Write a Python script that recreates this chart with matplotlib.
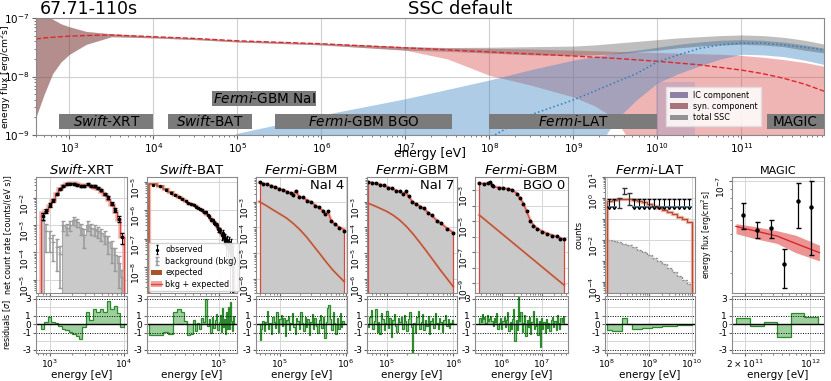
import numpy as np
import matplotlib
matplotlib.use("Agg")
import matplotlib.pyplot as plt
from matplotlib import ticker
from matplotlib.patches import Patch
from matplotlib.lines import Line2D

plt.rcParams["font.family"] = ["DejaVu Sans"]
plt.rcParams["mathtext.fontset"] = "dejavusans"
plt.rcParams["axes.edgecolor"] = "#8a8a8a"
plt.rcParams["axes.linewidth"] = 0.8
plt.rcParams["xtick.color"] = "#666666"
plt.rcParams["ytick.color"] = "#666666"
plt.rcParams["xtick.labelcolor"] = "black"
plt.rcParams["ytick.labelcolor"] = "black"

# ---------- top panel: SED model bands, log10 flux on a log10 energy grid ----------
SED_LOGE = [2.6, 2.7, 2.8, 2.9, 3.0, 3.2, 3.5, 4.0, 4.5, 5.0, 6.0, 7.0, 7.5, 8.0,
            8.5, 9.0, 9.25, 9.5, 9.75, 10.0, 10.25, 10.5, 10.75, 11.0, 11.25, 11.5, 11.75, 12.0]
SYN_MED = [-7.36, -7.34, -7.33, -7.32, -7.31, -7.30, -7.29, -7.32, -7.35, -7.39, -7.44, -7.51, -7.545, -7.58,
           -7.615, -7.65, -7.67, -7.69, -7.715, -7.74, -7.77, -7.80, -7.845, -7.89, -7.95, -8.03, -8.13, -8.26]
SYN_HI = [-6.8, -6.9, -7.02, -7.1, -7.15, -7.23, -7.27, -7.31, -7.34, -7.38, -7.43, -7.49, -7.51, -7.52,
          -7.53, -7.55, -7.56, -7.57, -7.58, -7.59, -7.6, -7.61, -7.62, -7.64, -7.67, -7.71, -7.76, -7.83]
SYN_LO = [-8.7, -8.3, -7.95, -7.75, -7.62, -7.45, -7.32, -7.34, -7.37, -7.41, -7.46, -7.55, -7.7, -7.98,
          -8.15, -8.35, -8.5, -8.72, -9.3, -10, -10, -10, -10, -10, -10, -10, -10, -10]
IC_MED = [-12, -12, -12, -12, -12, -12, -12, -12, -12, -12, -12, -10.2, -9.6, -9.05,
          -8.65, -8.4, -8.25, -8.1, -7.95, -7.75, -7.63, -7.52, -7.46, -7.43, -7.43, -7.46, -7.5, -7.55]
IC_HI = [-11, -11, -11, -11, -11, -11, -11, -11, -9.3, -8.97, -8.66, -8.38, -8.22, -8.06,
         -7.88, -7.72, -7.66, -7.6, -7.55, -7.5, -7.45, -7.41, -7.38, -7.37, -7.38, -7.41, -7.46, -7.52]
IC_LO = [-11, -11, -11, -11, -11, -11, -11, -11, -11, -11, -11, -11, -11, -11,
         -11, -11, -9.3, -8.75, -8.4, -8.11, -7.95, -7.82, -7.7, -7.62, -7.63, -7.66, -7.72, -7.8]
TOT_HI = [-6.8, -6.9, -7.02, -7.1, -7.15, -7.23, -7.27, -7.31, -7.34, -7.38, -7.43, -7.49, -7.505, -7.5,
          -7.49, -7.48, -7.46, -7.43, -7.4, -7.37, -7.34, -7.32, -7.3, -7.29, -7.3, -7.33, -7.38, -7.45]
TOT_LO = [-8.7, -8.3, -7.95, -7.75, -7.62, -7.45, -7.32, -7.34, -7.37, -7.41, -7.46, -7.55, -7.57, -7.6,
          -7.63, -7.64, -7.63, -7.61, -7.58, -7.55, -7.51, -7.48, -7.46, -7.45, -7.46, -7.49, -7.55, -7.6]

INSTR_NAMES = [r"$\mathit{Swift}$-XRT", r"$\mathit{Swift}$-BAT", r"$\mathit{Fermi}$-GBM NaI",
               r"$\mathit{Fermi}$-GBM BGO", r"$\mathit{Fermi}$-LAT", "MAGIC"]
INSTR_LO = [760, 1.5e4, 5.0e4, 2.8e5, 1.0e8, 2.0e11]
INSTR_HI = [1.0e4, 1.5e5, 8.7e5, 3.6e7, 1.0e10, 9.6e11]
INSTR_ROW = [0, 0, 1, 0, 0, 0]
SHADE_RANGE = (9.5e9, 2.8e10)

# ---------- Swift-XRT ----------
XRT_RANGE = (760, 1.0e4)
XRT_MODEL = [2.7e-3, 3.3e-3, 5.1e-3, 7.8e-3, 1.35e-2, 2.1e-2, 2.8e-2, 3.3e-2, 3.6e-2, 3.6e-2, 3.3e-2, 3.1e-2,
             2.9e-2, 2.9e-2, 2.7e-2, 2.4e-2, 2.1e-2, 1.7e-2, 1.25e-2, 8.7e-3, 5.4e-3, 3.1e-3, 1.5e-3, 3.7e-4]
XRT_OBS = [2.2e-3, 3.4e-3, 5.6e-3, 8.1e-3, 1.38e-2, 2.1e-2, 2.75e-2, 3.2e-2, 3.4e-2, 3.3e-2, 3.0e-2, 2.75e-2,
           2.85e-2, 3.2e-2, 2.8e-2, 2.7e-2, 2.3e-2, 1.9e-2, 1.38e-2, 1.05e-2, 6.1e-3, 3.6e-3, 1.7e-3, 3.6e-4]
XRT_OBS_ERR = [7e-4, 6e-4, 8e-4, 1.0e-3, 1.4e-3, 1.8e-3, 2.2e-3, 2.4e-3, 2.5e-3, 2.4e-3, 2.3e-3, 2.2e-3,
               2.2e-3, 2.3e-3, 2.1e-3, 2.0e-3, 1.8e-3, 1.6e-3, 1.3e-3, 1.1e-3, 8e-4, 6e-4, 4e-4, 1.6e-4]
XRT_BKG = [2.0e-3, 6e-4, 3.5e-4, 2.5e-4, 1.6e-4, 9e-5, 1.0e-3, 8e-4, 1.0e-3, 1.5e-3, 1.3e-3, 8e-4,
           4.5e-4, 1.0e-3, 8e-4, 7e-4, 6e-4, 5e-4, 4e-4, 2.5e-4, 1.5e-4, 8e-5, 4e-5, 1.2e-5]
XRT_BKG_ERR = [6e-4, 5e-4, 2.5e-4, 2e-4, 1.4e-4, 8.5e-5, 4e-4, 3.5e-4, 4e-4, 5e-4, 4.5e-4, 3.5e-4,
               3e-4, 4e-4, 3.5e-4, 3e-4, 2.7e-4, 2.4e-4, 2e-4, 1.6e-4, 1.1e-4, 6e-5, 3.5e-5, 1.1e-5]
XRT_BKG_FILLED = [1, 0, 0, 0, 0, 0, 1, 1, 1, 1, 1, 1, 1, 1, 1, 1, 1, 1, 1, 1, 1, 1, 1, 1]
XRT_RES = [-0.5, 0.3, 0.9, 0.3, 0.2, -0.2, -0.5, -0.7, -0.9, -1.2, -1.4, -1.7,
           -0.3, 1.5, 0.5, 1.8, 1.5, 1.8, 1.5, 2.7, 1.8, 2.2, 1.3, -0.3]

# ---------- Swift-BAT ----------
BAT_RANGE = (15e3, 150e3)
BAT_EXP = [8.0e-6, 7.0e-6, 5.4e-6, 4.2e-6, 3.3e-6, 2.8e-6, 2.4e-6, 2.1e-6, 1.85e-6, 1.65e-6,
           1.5e-6, 1.36e-6, 1.22e-6, 1.1e-6, 9.8e-7, 8.6e-7, 7.6e-7, 6.6e-7, 5.8e-7, 5.0e-7,
           4.3e-7, 3.7e-7, 3.2e-7, 2.75e-7, 2.35e-7, 2.0e-7, 1.72e-7, 1.48e-7, 1.27e-7, 1.09e-7,
           9.3e-8, 7.9e-8, 6.7e-8, 5.7e-8, 4.8e-8, 3.9e-8, 3.1e-8, 2.4e-8, 1.8e-8, 1.3e-8]
BAT_OBS = [7.7e-6, 6.75e-6, 5.25e-6, 4.05e-6, 3.45e-6, 2.95e-6, 2.5e-6, 2.13e-6, 1.77e-6, 1.58e-6,
           1.53e-6, 1.31e-6, 1.23e-6, 1.07e-6, 1.02e-6, 8.7e-7, 8.5e-7, 6.5e-7, 6.0e-7, 4.7e-7,
           4.6e-7, 3.6e-7, 3.35e-7, 3.05e-7, 2.15e-7, 2.06e-7, 1.95e-7, 1.3e-7, 1.55e-7, 1.04e-7,
           1.03e-7, 6.2e-8, 8.8e-8, 4.9e-8, 7.9e-8, 3.3e-8, 6.5e-8, 2.7e-8, 1.2e-8, 2.2e-8]
BAT_ERR = [1.5e-7, 1.4e-7, 1.2e-7, 1.1e-7, 1.0e-7, 9e-8, 8.5e-8, 8e-8, 7.5e-8, 7e-8,
           6.5e-8, 6.2e-8, 6e-8, 5.8e-8, 5.5e-8, 5.3e-8, 5.1e-8, 5e-8, 4.8e-8, 4.6e-8,
           4.5e-8, 4.4e-8, 4.3e-8, 4.2e-8, 4.1e-8, 4e-8, 4e-8, 3.9e-8, 3.9e-8, 3.8e-8,
           3.8e-8, 3.8e-8, 3.7e-8, 3.7e-8, 3.7e-8, 3.6e-8, 3.6e-8, 3.6e-8, 3.5e-8, 3.5e-8]
BAT_RES = [-1.3, -1.3, -0.9, -1.2, 1.4, 1.8, 1.5, 0.4, -1.3, -1.2, 0.5, -0.8, 0.2, -0.6, 0.8, 0.3,
           3.0, -0.2, 0.6, -1.0, 0.9, -0.4, 0.5, 1.2, -0.7, 0.3, 1.1, -0.9, 1.9, -0.3, 0.6, -1.1,
           1.4, -0.5, 2.1, -0.6, 2.6, 0.4, -0.8, 1.0]

# ---------- Fermi-GBM NaI 4 ----------
NAI4_E = [4.90e4, 5.50e4, 6.31e4, 7.24e4, 8.32e4, 9.55e4, 1.10e5, 1.26e5, 1.45e5, 1.58e5, 1.74e5, 1.95e5,
          2.24e5, 2.57e5, 2.95e5, 3.39e5, 3.89e5, 4.47e5, 4.90e5, 5.37e5, 5.89e5, 6.76e5, 7.94e5, 9.33e5]
NAI4_TOT = [5.5e-3, 5.1e-3, 4.6e-3, 4.1e-3, 3.55e-3, 3.16e-3, 2.82e-3, 2.45e-3, 2.14e-3, 1.95e-3, 2.5e-3, 1.58e-3,
            1.38e-3, 1.15e-3, 9.3e-4, 7.4e-4, 5.75e-4, 4.4e-4, 3.0e-4, 4.0e-4, 2.0e-4, 1.32e-4, 1.02e-4, 8.3e-5]
NAI4_OBS = [5.8e-3, 4.9e-3, 4.8e-3, 3.9e-3, 3.7e-3, 3.0e-3, 2.9e-3, 2.35e-3, 2.2e-3, 1.85e-3, 2.6e-3, 1.5e-3,
            1.45e-3, 1.08e-3, 9.8e-4, 7.0e-4, 6.0e-4, 4.2e-4, 3.2e-4, 4.3e-4, 1.85e-4, 1.4e-4, 9.4e-5, 7.6e-5]
NAI4_EXP_E = [4.85e4, 6.31e4, 7.94e4, 1.0e5, 1.26e5, 1.58e5, 2.0e5, 2.51e5, 3.16e5, 3.98e5, 5.01e5, 6.31e5, 7.94e5, 9.33e5]
NAI4_EXP = [1.0e-3, 6.8e-4, 4.7e-4, 3.3e-4, 2.3e-4, 1.45e-4, 8.3e-5, 4.4e-5, 2.1e-5, 1.0e-5, 4.7e-6, 2.3e-6, 1.26e-6, 8.3e-7]
NAI4_RES = [-1.9, -0.6, 0.4, -0.8, 0.3, 1.6, -0.5, 0.2, -1.2, 0.9, 0.3, -0.4, 1.4, -0.9, 0.6, 1.1, -0.2, 0.8, -1.4, 0.5,
            1.0, -0.7, 0.2, 1.3, -0.3, -1.1, 0.7, 0.4, -0.6, 1.5, 0.1, -0.8, 0.9, -0.3, 0.6, -1.3, 0.3, 1.2, -0.5, 0.8,
            -0.2, -1.0, 0.5, 1.1, -0.4, 0.9, -1.6, 0.3, 1.9, 2.3, 0.6, -0.7, 1.4, 0.2, -1.2, 0.8, -0.5, 1.3, -0.3, 0.4]

# ---------- Fermi-GBM NaI 7 ----------
NAI7_E = [5.25e4, 6.03e4, 6.92e4, 7.94e4, 9.12e4, 1.05e5, 1.20e5, 1.38e5, 1.58e5, 1.78e5, 1.95e5,
          2.14e5, 2.40e5, 2.75e5, 3.16e5, 3.63e5, 4.17e5, 4.79e5, 5.62e5, 6.61e5, 7.94e5, 1.0e6]
NAI7_TOT = [5.6e-3, 5.4e-3, 4.9e-3, 4.6e-3, 4.1e-3, 3.55e-3, 3.1e-3, 2.7e-3, 2.35e-3, 2.0e-3, 2.4e-3,
            1.51e-3, 1.05e-3, 7.9e-4, 6.6e-4, 5.25e-4, 3.8e-4, 2.8e-4, 1.9e-4, 1.41e-4, 9.5e-5, 6.3e-5]
NAI7_OBS = [5.9e-3, 5.2e-3, 5.1e-3, 4.4e-3, 4.3e-3, 3.4e-3, 3.3e-3, 2.6e-3, 2.5e-3, 1.9e-3, 2.5e-3,
            1.6e-3, 1.0e-3, 8.4e-4, 6.3e-4, 5.6e-4, 3.6e-4, 3.0e-4, 1.8e-4, 1.5e-4, 9.0e-5, 5.9e-5]
NAI7_EXP_E = [5.25e4, 7.08e4, 1.0e5, 1.26e5, 1.58e5, 2.0e5, 2.51e5, 3.16e5, 3.98e5, 5.01e5, 6.31e5, 7.94e5, 1.0e6]
NAI7_EXP = [8.7e-4, 6.3e-4, 4.2e-4, 2.95e-4, 1.9e-4, 1.07e-4, 5.5e-5, 2.6e-5, 1.2e-5, 5.4e-6, 2.4e-6, 1.12e-6, 5.2e-7]
NAI7_RES = [-0.3, 0.9, 1.7, -0.5, 0.4, 1.8, -0.9, 0.3, -1.2, 1.3, 0.6, -0.7, 0.2, 1.6, -0.4, 0.8, -1.5, 0.5, 1.2, -0.2,
            -0.9, 0.7, 0.3, 0.9, -0.6, 1.1, 0.4, -0.8, 0.6, 1.4, -0.3, -3.6, 0.2, -1.0, 0.9, 1.6, -0.5, 0.3, 1.2, -0.7,
            0.5, -0.2, 1.0, -1.1, 0.4, 0.8, -0.4, 1.3, 0.1, -0.6, 0.7, 0.3, -0.9, 0.5, 1.1, -0.2, 0.6, -0.4, 0.2, 0.5]

# ---------- Fermi-GBM BGO 0 ----------
BGO_E = [2.75e5, 3.55e5, 4.47e5, 5.09e5, 5.62e5, 6.17e5, 8.32e5, 1.10e6, 1.41e6, 1.78e6, 2.37e6, 2.88e6,
         3.47e6, 4.22e6, 5.13e6, 6.17e6, 7.50e6, 1.0e7, 1.33e7, 1.78e7, 2.37e7, 2.95e7, 3.63e7]
BGO_TOT = [2.7e-3, 2.6e-3, 2.7e-3, 2.95e-3, 2.2e-3, 1.62e-3, 1.45e-3, 1.29e-3, 1.15e-3, 1.0e-3, 6.2e-4, 2.9e-4,
           1.38e-4, 4.1e-5, 1.17e-5, 5.6e-6, 3.5e-6, 2.3e-6, 1.62e-6, 1.26e-6, 1.0e-6, 8.1e-7, 6.8e-7]
BGO_OBS = [2.9e-3, 2.5e-3, 2.8e-3, 3.1e-3, 2.1e-3, 1.7e-3, 1.38e-3, 1.35e-3, 1.1e-3, 1.05e-3, 5.9e-4, 3.1e-4,
           1.3e-4, 4.5e-5, 1.05e-5, 4.9e-6, 3.1e-6, 2.0e-6, 1.45e-6, 1.15e-6, 1.05e-6, 7.6e-7, 7.1e-7]
BGO_EXP_E = [2.75e5, 3.63e7]
BGO_EXP = [2.45e-5, 7.8e-10]
BGO_RES = [0.8, 0.3, 1.2, 0.6, 0.9, 0.2, 1.1, 0.4, 0.6, 1.0, 0.4, -0.2, 0.7, 0.3, 1.3, -0.5, 0.2, 0.8, -0.6, 0.4,
           0.9, -0.3, 0.5, 1.4, -0.8, 0.3, -0.6, 0.6, 1.8, -2.0, 0.5, -0.7, 3.6, 0.4, 1.5, -0.9, 0.2, 1.1, -1.4, 0.5,
           -0.3, 0.9, -1.1, 0.3, 1.6, -0.5, -0.2, 0.7, -1.3, 0.4, -2.7, 0.8, -0.6, 0.3, -1.0, 0.6, -0.4, 0.2, -0.8, 0.5,
           0.9, -0.3, 0.4, -0.7, 1.1, 0.2, -0.5, 0.8, 0.3, 1.0]

# ---------- Fermi-LAT ----------
LAT_RANGE = (1e8, 1e10)
LAT_MODEL = [0.71, 0.83, 0.91, 0.95, 0.91, 0.83, 0.72, 0.63, 0.52, 0.44, 0.35, 0.28, 0.22, 0.17, 0.13, 0.10, 0.076]
LAT_BKG = [1.05e-2, 9.3e-3, 8.1e-3, 6.8e-3, 5.5e-3, 4.4e-3, 3.4e-3, 2.6e-3, 1.9e-3, 1.4e-3, 9.8e-4, 6.8e-4,
           4.6e-4, 3.0e-4, 1.95e-4, 1.23e-4, 7.6e-5]
LAT_DET_E = [1.97e8, 2.58e8, 3.39e8]
LAT_DET = [0.4, 3.0, 0.7]
LAT_DET_LO = [0.34, 1.55, 0.5]
LAT_DET_HI = [1.05, 3.2, 1.8]
LAT_UL_E = [1.15e8, 1.5e8, 4.44e8, 5.82e8, 7.62e8, 1.0e9, 1.31e9, 1.72e9, 2.25e9, 2.96e9, 3.87e9, 5.08e9, 6.67e9, 8.73e9]
LAT_UL = [0.9, 0.9, 0.9, 0.9, 0.9, 0.9, 0.9, 0.9, 0.9, 0.9, 0.9, 0.9, 0.9, 0.9]
LAT_UL_LEN = [0.45, 0.45, 0.45, 0.45, 0.45, 0.45, 0.45, 0.45, 0.45, 0.45, 0.45, 0.45, 0.45, 0.45]
LAT_RES = [-0.7, -0.75, -0.85, 0.7, 0.0, -0.55, -0.5, -0.45, -0.4, -0.35, -0.3, -0.25, -0.2, -0.16, -0.12, -0.08, -0.05]

# ---------- MAGIC ----------
MAGIC_E = [1.92e11, 2.7e11, 3.8e11, 5.3e11, 7.4e11, 1.02e12]
MAGIC_F = [6.4e-8, 5.25e-8, 5.4e-8, 3.35e-8, 7.7e-8, 7.1e-8]
MAGIC_F_LO = [5.3e-8, 4.7e-8, 4.7e-8, 2.47e-8, 5.4e-8, 3.8e-8]
MAGIC_F_HI = [7.5e-8, 5.8e-8, 6.0e-8, 4.1e-8, 9.7e-8, 9.9e-8]
MAGIC_MODEL_E = [1.6e11, 2.5e11, 4.4e11, 7.0e11, 1.26e12]
MAGIC_MODEL = [5.5e-8, 5.2e-8, 4.85e-8, 4.4e-8, 3.9e-8]
MAGIC_MODEL_LO = [5.0e-8, 4.7e-8, 4.4e-8, 3.9e-8, 3.5e-8]
MAGIC_MODEL_HI = [5.7e-8, 5.5e-8, 5.2e-8, 4.9e-8, 4.3e-8]
MAGIC_RES_EDGES = [1.6e11, 2.26e11, 3.2e11, 4.45e11, 6.2e11, 8.6e11, 1.23e12]
MAGIC_RES = [0.7, -0.15, 0.3, -1.5, 1.3, 0.9]

BROWN = "#a9532b"
RED = "#d9483c"
PINK = "#f2a3a0"
BKG_GRAY = "#c9c9c9"
GREEN = "#2b8a2b"
LGREEN = "#8cc88c"
GRID = dict(color="#d6d6d6", lw=0.7)
FLOOR = 1e-14

W, H = 831, 381
fig = plt.figure(figsize=(W / 100, H / 100), dpi=100)


def frac(x0, x1, y0, y1):
    return [x0 / W, 1 - y1 / H, (x1 - x0) / W, (y1 - y0) / H]


def p10(v):
    return 10 ** np.asarray(v, float)


def decade_labels(exps, shown):
    return [rf"$10^{{{e}}}$" if e in shown else "" for e in exps]


def style_main(ax, xlim, ylim, exps, shown=None):
    ax.set_xscale("log")
    ax.set_yscale("log")
    ax.set_xlim(xlim)
    ax.set_ylim(ylim)
    ax.set_yticks([10.0 ** e for e in exps])
    ax.set_yticklabels(decade_labels(exps, exps if shown is None else shown))
    ax.yaxis.set_minor_formatter(ticker.NullFormatter())
    ax.grid(True, which="major", **GRID)
    ax.set_axisbelow(True)
    ax.tick_params(axis="y", labelrotation=90, labelsize=6.5, pad=1, length=2.5)
    ax.tick_params(axis="x", labelbottom=False, length=2.5)
    ax.tick_params(which="minor", length=1.5)


def style_res(ax, res, edges):
    ax.stairs(res, edges, baseline=0, fill=True, color=LGREEN, alpha=0.85, lw=0)
    ax.stairs(res, edges, baseline=0, color=GREEN, lw=0.9)
    ax.set_ylim(-3.4, 3.35)
    ax.set_yticks([-3, -1, 0, 1, 3])
    ax.set_yticklabels(["-3", "-1", "0", "1", "3"])
    for v in (-2, 2):
        ax.axhline(v, zorder=0, **GRID)
    for v in (-3, -1, 1, 3):
        ax.axhline(v, color="k", ls=(0, (1, 1.5)), lw=0.7)
    ax.axhline(0, color="k", lw=1.0)
    ax.grid(True, axis="x", which="major", **GRID)
    ax.set_axisbelow(True)
    ax.tick_params(labelsize=6.5, pad=1, length=2.5)
    ax.tick_params(which="minor", length=1.5)
    ax.set_xlabel("energy [eV]", fontsize=7.5, labelpad=0)


def halo_stairs(ax, vals, edges):
    ax.stairs(vals, edges, baseline=FLOOR, color=PINK, lw=2.6, alpha=0.8)
    ax.stairs(vals, edges, baseline=FLOOR, color=RED, lw=0.9)


def gbm_panel(ax, E, tot, obs, eexp, exp):
    ax.fill_between(E, tot, FLOOR, color=BKG_GRAY, lw=0)
    ax.plot(eexp, exp, color=PINK, lw=2.2, alpha=0.7)
    ax.plot(eexp, exp, color=BROWN, lw=1.0)
    ax.plot(E, tot, color=PINK, lw=2.4, alpha=0.8)
    ax.plot(E, tot, color=RED, lw=0.9)
    ax.vlines([E[0], E[-1]], FLOOR, [tot[0], tot[-1]], color=RED, lw=0.9)
    ax.plot(E, obs, "o", color="k", ms=1.8)


# ================= top panel =================
ax = fig.add_axes(frac(36, 824, 18, 135))
Es = p10(SED_LOGE)
ax.fill_between(Es, p10(SYN_LO), p10(SYN_HI), color="#d94f4f", alpha=0.42, lw=0)
ax.fill_between(Es, p10(IC_LO), p10(IC_HI), color="#3f86c2", alpha=0.42, lw=0)
ax.fill_between(Es, p10(TOT_LO), p10(TOT_HI), color="#3c3c3c", alpha=0.33, lw=0)
ax.plot(Es, p10(SYN_MED), color="#e0262b", ls="--", lw=1.0)
ax.plot(Es, p10(IC_MED), color="#2f7fc0", ls=":", lw=1.1)
ax.axvspan(*SHADE_RANGE, ymin=0, ymax=0.453, color="#7f8fc8", alpha=0.3, lw=0, zorder=3)
ax.set_xscale("log")
ax.set_yscale("log")
ax.set_xlim(4.0e2, 9.6e11)
ax.set_ylim(1e-9, 1e-7)
ax.grid(True, which="major", color="#cfcfcf", lw=0.8)
ax.set_axisbelow(True)
ax.tick_params(labelsize=7.5, pad=1.5, length=3)
ax.tick_params(which="minor", length=1.5)
ax.set_xlabel("energy [eV]", fontsize=8.8, labelpad=-6)
ax.set_ylabel("energy flux [erg/cm$^2$s]", fontsize=6.6)
ax.yaxis.set_label_coords(-0.029, 0.5)
rows = {0: (0.051, 0.179), 1: (0.248, 0.376)}
tr = ax.get_xaxis_transform()
for name, lo, hi, r in zip(INSTR_NAMES, INSTR_LO, INSTR_HI, INSTR_ROW):
    y0, y1 = rows[r]
    ax.axvspan(lo, hi, ymin=y0, ymax=y1, color="#7b7b7b", lw=0, zorder=4)
    ax.text(np.sqrt(lo * hi), (y0 + y1) / 2, name, transform=tr, ha="center", va="center",
            fontsize=9.8, zorder=5)
ax.legend(handles=[Patch(facecolor="#8d80a6", label="IC component"),
                   Patch(facecolor="#a8747c", label="syn. component"),
                   Patch(facecolor="#929292", label="total SSC")],
          loc="lower left", bbox_to_anchor=(0.795, 0.045), fontsize=5.8, framealpha=0.85,
          edgecolor="#e0e0e0", borderpad=0.4, labelspacing=0.3, handlelength=2.3,
          handletextpad=0.6, fancybox=False).set_zorder(6)

fig.text(40 / W, 1 - 14 / H, "67.71-110s", fontsize=12.5, va="baseline")
fig.text(460 / W, 1 - 14 / H, "SSC default", fontsize=13, va="baseline", ha="center")

# ================= bottom row =================
cols = [(36, 127), (147, 237), (256, 347), (367, 457), (475, 568), (605, 695), (732, 824)]
mains = [fig.add_axes(frac(a, b, 177, 293)) for a, b in cols]
resids = [fig.add_axes(frac(a, b, 296, 353), sharex=m) for (a, b), m in zip(cols, mains)]
TITLE = dict(fontsize=9.5, pad=2)

# --- Swift-XRT ---
ax, rx = mains[0], resids[0]
ed = np.geomspace(*XRT_RANGE, len(XRT_MODEL) + 1)
ce = np.sqrt(ed[:-1] * ed[1:])
bkg_fill = np.where(np.array(XRT_BKG_FILLED) > 0, XRT_BKG, FLOOR)
ax.stairs(bkg_fill, ed, baseline=FLOOR, fill=True, color=BKG_GRAY, lw=0)
ax.stairs(bkg_fill, ed, baseline=FLOOR, color="#a8a8a8", lw=0.8)
bkg_h = ax.errorbar(ce, XRT_BKG, yerr=XRT_BKG_ERR, fmt="_", color="#9a9a9a", ms=3, elinewidth=1.1,
                    capsize=1.2)
halo_stairs(ax, XRT_MODEL, ed)
ax.errorbar(ce, XRT_OBS, yerr=XRT_OBS_ERR, fmt="o", color="k", ms=1.6, elinewidth=0.7, capsize=1.2)
style_main(ax, (650, 1.1e4), (3.2e-6, 5.9e-2), [-5, -4, -3, -2])
ax.set_title(r"$\mathit{Swift}$-XRT", **TITLE)
ax.set_ylabel("net count rate [counts/(eV s)]", fontsize=5.8)
ax.yaxis.set_label_coords(-0.25, 0.5)
style_res(rx, XRT_RES, ed)
rx.set_ylabel(r"residuals [$\sigma$]", fontsize=5.8)
rx.yaxis.set_label_coords(-0.25, 0.5)

# --- Swift-BAT ---
ax, rx = mains[1], resids[1]
ed = np.linspace(*BAT_RANGE, len(BAT_EXP) + 1)
ce = 0.5 * (ed[:-1] + ed[1:])
ax.stairs(BAT_EXP, ed, baseline=FLOOR, color=PINK, lw=2.4, alpha=0.8)
ax.stairs(BAT_EXP, ed, baseline=FLOOR, color=BROWN, lw=1.1)
obs_h = ax.errorbar(ce, BAT_OBS, yerr=BAT_ERR, fmt="o", color="k", ms=1.4, elinewidth=0.7, capsize=1.0)
style_main(ax, (1.41e4, 1.64e5), (1.25e-9, 1.45e-5), [-8, -7, -6, -5])
ax.set_title(r"$\mathit{Swift}$-BAT", **TITLE)
ax.legend(handles=[obs_h, bkg_h, Patch(facecolor=BROWN),
                   (Patch(facecolor=PINK), Line2D([], [], color=RED, lw=1))],
          labels=["observed", "background (bkg)", "expected", "bkg + expected"],
          loc="lower left", fontsize=5.8, framealpha=0.9, edgecolor="#cccccc", borderpad=0.35,
          labelspacing=0.3, handlelength=1.3, handletextpad=0.4, borderaxespad=0.2, fancybox=False)
style_res(rx, BAT_RES, ed)

# --- Fermi-GBM NaI 4 / NaI 7 / BGO 0 ---
gbm = [
    (NAI4_E, NAI4_TOT, NAI4_OBS, NAI4_EXP_E, NAI4_EXP, NAI4_RES, (4.33e4, 1.04e6),
     (2.95e-7, 8.9e-3), [-6, -5, -4, -3], None, "NaI 4"),
    (NAI7_E, NAI7_TOT, NAI7_OBS, NAI7_EXP_E, NAI7_EXP, NAI7_RES, (5.07e4, 1.14e6),
     (2.95e-7, 8.9e-3), [-6, -5, -4, -3], None, "NaI 7"),
    (BGO_E, BGO_TOT, BGO_OBS, BGO_EXP_E, BGO_EXP, BGO_RES, (2.14e5, 4.57e7),
     (2.4e-10, 6.9e-3), [-9, -8, -7, -6, -5, -4, -3], [-9, -7, -5, -3], "BGO 0"),
]
for k, (E, tot, obs, eexp, exp, res, xl, yl, exps, shown, det) in enumerate(gbm):
    ax, rx = mains[2 + k], resids[2 + k]
    gbm_panel(ax, E, tot, obs, eexp, exp)
    style_main(ax, xl, yl, exps, shown)
    ax.set_title(r"$\mathit{Fermi}$-GBM", **TITLE)
    ax.text(0.97, 0.985, det, transform=ax.transAxes, ha="right", va="top", fontsize=9.5)
    ed = np.geomspace(E[0], E[-1], len(res) + 1)
    style_res(rx, res, ed)

# --- Fermi-LAT ---
ax, rx = mains[5], resids[5]
ed = np.geomspace(*LAT_RANGE, len(LAT_MODEL) + 1)
ax.stairs(LAT_BKG, ed, baseline=FLOOR, fill=True, color=BKG_GRAY, lw=0)
ax.stairs(LAT_BKG, ed, baseline=FLOOR, color="#8f8f8f", lw=1.0, ls=(0, (1.5, 1)))
ax.stairs(LAT_MODEL, ed, baseline=FLOOR, color=PINK, lw=2.4, alpha=0.8)
ax.stairs(LAT_MODEL, ed, baseline=FLOOR, color=BROWN, lw=0.9)
det = np.array(LAT_DET)
ax.errorbar(LAT_DET_E, det, yerr=[det - np.array(LAT_DET_LO), np.array(LAT_DET_HI) - det],
            fmt="none", ecolor="#333333", elinewidth=0.9, capsize=1.8)
ax.errorbar(LAT_UL_E, LAT_UL, yerr=LAT_UL_LEN, uplims=True, fmt="none", ecolor="k",
            elinewidth=0.8, capsize=1.5)
style_main(ax, (9.1e7, 1.2e10), (2.9e-5, 10.5), [-4, -3, -2, -1, 0, 1], [-4, -2, 0, 1])
ax.set_title(r"$\mathit{Fermi}$-LAT", **TITLE)
ax.set_ylabel("counts", fontsize=6)
ax.yaxis.set_label_coords(-0.235, 0.5)
style_res(rx, LAT_RES, ed)

# --- MAGIC ---
ax, rx = mains[6], resids[6]
ax.fill_between(MAGIC_MODEL_E, MAGIC_MODEL_LO, MAGIC_MODEL_HI, color="#e87a7a", alpha=0.8, lw=0)
ax.plot(MAGIC_MODEL_E, MAGIC_MODEL, color="#d62728", lw=1.0)
mf = np.array(MAGIC_F)
ax.errorbar(MAGIC_E, mf, yerr=[mf - np.array(MAGIC_F_LO), np.array(MAGIC_F_HI) - mf],
            fmt="o", color="k", ms=2.2, elinewidth=0.9, capsize=1.8)
style_main(ax, (1.45e11, 1.41e12), (2.3e-8, 1.05e-7), [-7])
ax.set_title("MAGIC", fontsize=8, pad=2)
ax.set_ylabel("energy flux [erg/cm$^2$s]", fontsize=5.6)
ax.yaxis.set_label_coords(-0.2, 0.5)
style_res(rx, MAGIC_RES, MAGIC_RES_EDGES)
rx.set_xticks([2e11, 1e12])
rx.set_xticklabels([r"$2\times10^{11}$", r"$10^{12}$"])
rx.xaxis.set_minor_formatter(ticker.NullFormatter())

fig.savefig("out.png", dpi=100)
